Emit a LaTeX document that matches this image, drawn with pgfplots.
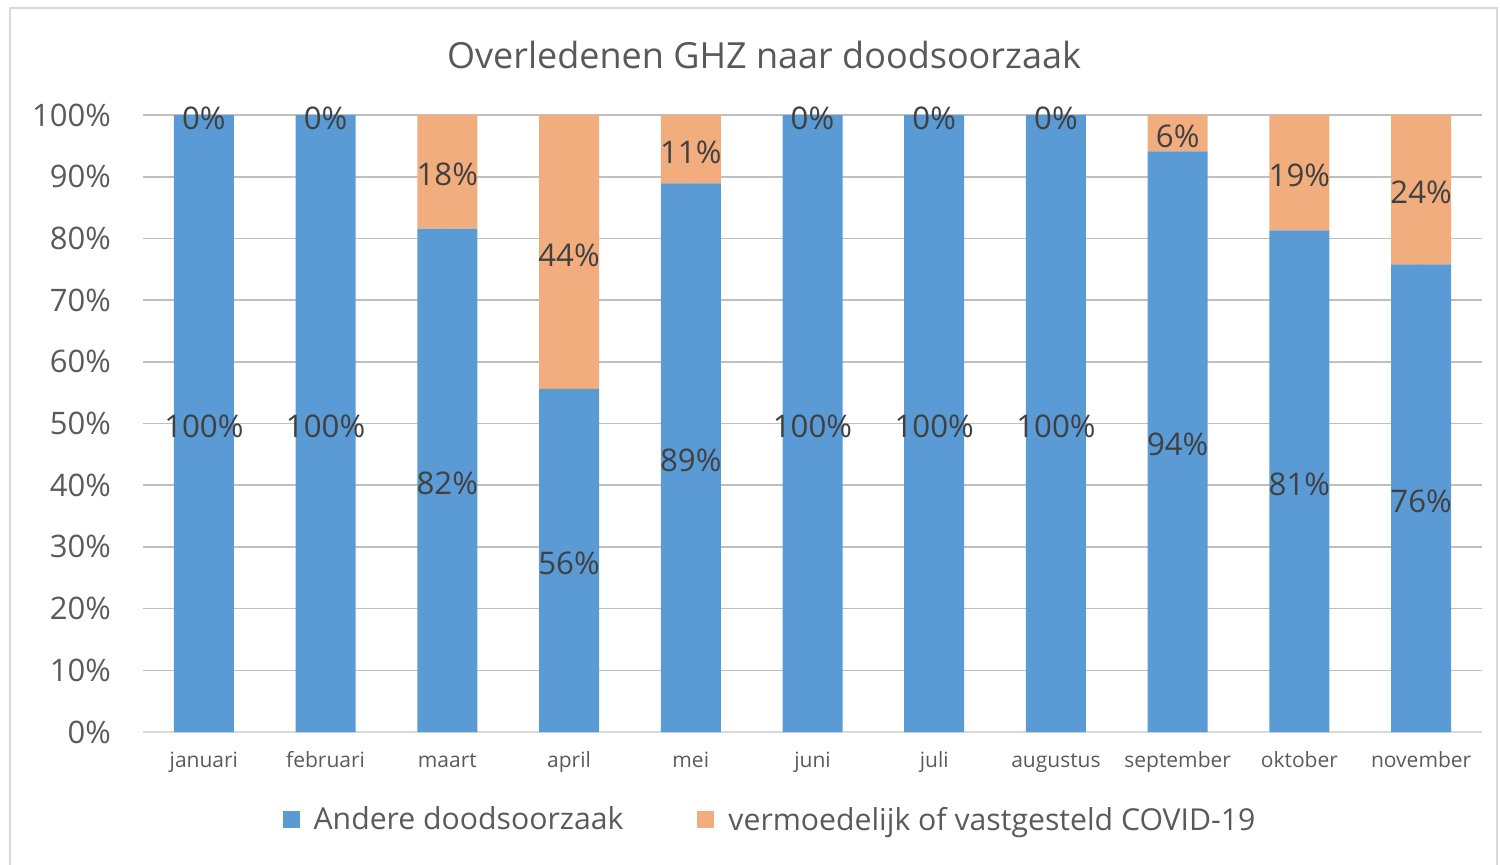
\documentclass[border=0pt]{standalone}
\usepackage{fontspec}
\setmainfont{Open Sans}
\usepackage{pgfplots}
\pgfplotsset{compat=1.18}
\usepackage{pgfplotstable}
\definecolor{cblue}{RGB}{91,155,213}
\definecolor{corange}{RGB}{242,173,126}
\definecolor{tgray}{RGB}{89,89,89}
\definecolor{lgray}{RGB}{90,90,90}
\definecolor{dgray}{RGB}{64,64,64}
\definecolor{grid}{RGB}{217,217,217}

\pgfplotstableread{
x blue orange
0 100 0
1 100 0
2 81.6 18.4
3 55.6 44.4
4 88.9 11.1
5 100 0
6 100 0
7 100 0
8 94.1 5.9
9 81.3 18.7
10 75.8 24.2
}\bars

\pgfplotstableread{
x y v
0 50 100
1 50 100
2 40.8 82
3 27.8 56
4 44.45 89
5 50 100
6 50 100
7 50 100
8 47.05 94
9 40.65 81
10 37.9 76
0 100 0
1 100 0
2 90.8 18
3 77.8 44
4 94.45 11
5 100 0
6 100 0
7 100 0
8 97.05 6
9 90.65 19
10 87.9 24
}\labs

\begin{document}
\begin{tikzpicture}
\useasboundingbox (0,0) rectangle (750pt,432pt);
\draw[grid, line width=0.8pt] (5pt,-10pt) -- (5pt,428pt) -- (748.5pt,428pt) -- (748.5pt,-10pt);
\node[font=\fontsize{18}{20}\selectfont, text=tgray] at (382pt,404.5pt) {Overledenen GHZ naar doodsoorzaak};
\begin{axis}[
  at={(71.5pt,66pt)}, anchor=south west,
  scale only axis, width=669.5pt, height=308.5pt,
  ybar stacked, bar width=30pt,
  xmin=-0.5, xmax=10.5, ymin=0, ymax=100,
  xtick={0,...,10},
  xticklabels={januari,februari,maart,april,mei,juni,juli,augustus,september,oktober,november},
  typeset ticklabels with strut,
  ytick={0,10,...,100},
  yticklabel={\pgfmathprintnumber{\tick}\%},
  /pgf/number format/assume math mode=true,
  ymajorgrids, major grid style={grid, line width=0.8pt},
  major tick length=0pt,
  axis x line*=bottom, axis y line*=left,
  x axis line style={grid, line width=0.8pt, -},
  y axis line style={draw=none},
  xticklabel style={font=\fontsize{10.5}{12}\selectfont, text=lgray, yshift=-6pt},
  yticklabel style={font=\fontsize{15.5}{17}\selectfont, text=lgray, xshift=-12.5pt},
  legend style={at={(0.469,-0.1426)}, anchor=center, draw=none, fill=none,
    legend columns=2, font=\fontsize{15.1}{17}\selectfont, text=lgray,
    /tikz/every even column/.append style={column sep=35pt}},
  legend image code/.code={\fill[#1] (0pt,-4.25pt) rectangle (8.5pt,4.25pt); \path (13.5pt,0pt);},
]
\addplot[fill=cblue, draw=none] table[x=x, y=blue] {\bars};
\addplot[fill=corange, draw=none] table[x=x, y=orange] {\bars};
\legend{Andere doodsoorzaak, vermoedelijk of vastgesteld COVID-19}
\end{axis}
\begin{axis}[
  at={(71.5pt,66pt)}, anchor=south west,
  scale only axis, width=669.5pt, height=308.5pt,
  xmin=-0.5, xmax=10.5, ymin=0, ymax=100,
  hide axis, clip=false,
  /pgf/number format/assume math mode=true,
]
\addplot[draw=none, mark=none, only marks, point meta=explicit,
  nodes near coords={\pgfmathprintnumber[fixed,precision=0]{\pgfplotspointmeta}\%},
  every node near coord/.append style={anchor=center, yshift=-1.5pt, font=\fontsize{15.6}{17}\selectfont, text=dgray}]
  table[x=x, y=y, meta=v] {\labs};
\end{axis}
\end{tikzpicture}
\end{document}
